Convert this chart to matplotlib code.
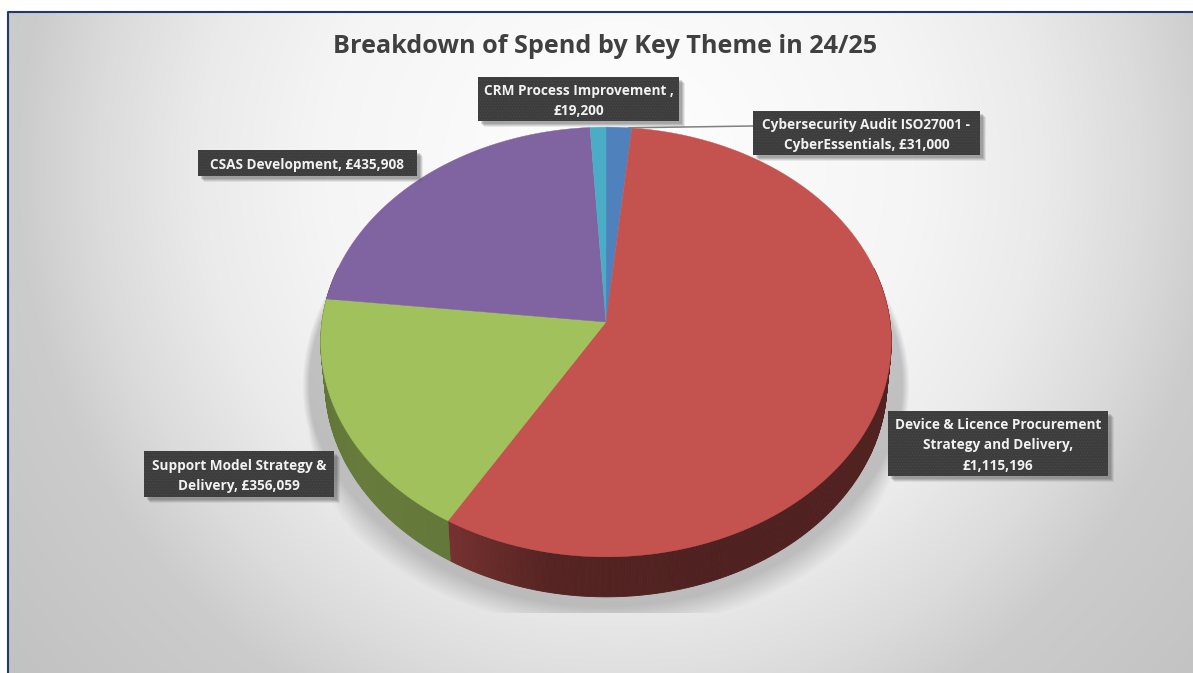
import numpy as np
import matplotlib
matplotlib.use("Agg")
import matplotlib.pyplot as plt
from matplotlib.patches import Rectangle

values = [31000, 1115196, 356059, 435908, 19200]
label_texts = ["Cybersecurity Audit ISO27001 -\nCyberEssentials, £31,000",
               "Device & Licence Procurement\nStrategy and Delivery,\n£1,115,196",
               "Support Model Strategy &\nDelivery, £356,059",
               "CSAS Development, £435,908",
               "CRM Process Improvement ,\n£19,200"]
top_colors = ["#4f81bd", "#c4524f", "#a1c15d", "#8064a2", "#4bacc6"]
title = "Breakdown of Spend by Key Theme in 24/25"
label_boxes = [(753, 111, 980, 155), (888, 411, 1108, 476), (144, 451, 334, 497),
               (198, 150, 417, 176), (478, 77, 679, 121)]

W, H = 1193, 673
plt.rcParams['font.family'] = ['Open Sans', 'DejaVu Sans']
plt.rcParams['hatch.linewidth'] = 0.4
fig = plt.figure(figsize=(W / 100, H / 100), dpi=100, facecolor="white")
ax = fig.add_axes([0, 0, 1, 1])
ax.set_xlim(0, W); ax.set_ylim(H, 0); ax.axis("off")

# gradient background
yy, xx = np.mgrid[0:H, 0:W] + 0.5
r = np.sqrt(((xx - 620) / 600) ** 2 + ((yy - 170) / 610) ** 2)
g = np.interp(r, [0, .5, .7, .87, 1.0, 1.3], [1.0, .96, .92, .86, .80, .76])
g[(xx < 8) | (yy < 12)] = 1.0
ax.imshow(np.dstack([g, g, g]), extent=(0, W, H, 0), aspect="auto", zorder=0)
ax.set_xlim(0, W); ax.set_ylim(H, 0)

# soft shadow under the pie: crisp at the sides, blurred towards the bottom
d = np.sqrt(((xx - 606) / 292) ** 2 + ((yy - 385) / 225) ** 2)
ramp = np.clip((yy - 430) / 100, 0, 1)
soft = 0.025 + 0.08 * ramp
sa = np.clip((1.04 + 0.05 * ramp - d) / soft, 0, 1) * 0.27
sa[yy < 285] = 0
sa[yy > 613] = 0
sh = np.zeros((H, W, 4)); sh[..., :3] = 0.25; sh[..., 3] = sa
ax.imshow(sh, extent=(0, W, H, 0), aspect="auto", zorder=1)
ax.set_xlim(0, W); ax.set_ylim(H, 0)

# border: top and left only
ax.plot([8, 8, W], [H, 12, 12], color="#1f3a73", lw=1.5, zorder=2)

# perspective pie
cx, cy, bx, by, k = 606, 322, 284, 213, 0.093
depth = 40


def proj(theta):
    """clock angle in degrees (0 at 12 o'clock) -> top rim pixel position"""
    t = np.radians(theta)
    x, y = np.sin(t), np.cos(t)
    w = 1 + k * y
    return cx + bx * x / w, cy - by * y / w


def shade(c, f):
    return tuple(np.array(matplotlib.colors.to_rgb(c)) * f)


edges = np.concatenate([[0], np.cumsum(values)]) / np.sum(values) * 360
side_stops = np.array([75, 120, 160, 190, 211, 211.01, 235, 262, 285])
side_facts = np.array([.42, .41, .40, .43, .60, .62, .64, .60, .80])

# sides
for i, c in enumerate(top_colors):
    a0, a1 = max(edges[i], 75), min(edges[i + 1], 285)
    if a1 <= a0:
        continue
    th = np.linspace(a0, a1, int((a1 - a0) * 2) + 2)
    for t0, t1 in zip(th[:-1], th[1:]):
        x0, y0 = proj(t0); x1, y1 = proj(t1)
        f = np.interp((t0 + t1) / 2, side_stops, side_facts)
        col = shade(c, f)
        px = [x0, x1, cx + .985 * (x1 - cx), cx + .985 * (x0 - cx)]
        py = [y0, y1, y1 + depth, y0 + depth]
        ax.fill(px, py, color=col, lw=0.6, zorder=3)

# top faces
for i, c in enumerate(top_colors):
    th = np.linspace(edges[i], edges[i + 1], int(edges[i + 1] - edges[i]) * 2 + 3)
    x, y = proj(th)
    ax.fill(np.r_[cx, x], np.r_[cy, y], color=c, lw=0.3, zorder=4)

# leader line
lx, ly = proj(5)
ax.plot([lx, 753], [ly, 126], color="#808080", lw=1.1, zorder=5)

# data labels
for (x0, y0, x1, y1), t in zip(label_boxes, label_texts):
    for off, al in ((6, .10), (5, .14), (4, .18), (3, .2)):
        ax.add_patch(Rectangle((x0 + off, y0 + off), x1 - x0, y1 - y0, fc="#505050",
                               ec="none", alpha=al, zorder=6))
    ax.add_patch(Rectangle((x0, y0), x1 - x0, y1 - y0, fc="#3d3d3d", ec="#4a4a4a",
                           hatch="......", lw=0, zorder=7))
    ax.text((x0 + x1) / 2, (y0 + y1) / 2 + 2, t, color="#f2f2f2", fontsize=9.85,
            fontweight="bold", ha="center", va="center", linespacing=1.55, zorder=8)

ax.text(605, 46.5, title, color="#404040", fontsize=18.2, fontweight="bold",
        ha="center", va="center", zorder=8)

fig.savefig("out.png", dpi=100)
